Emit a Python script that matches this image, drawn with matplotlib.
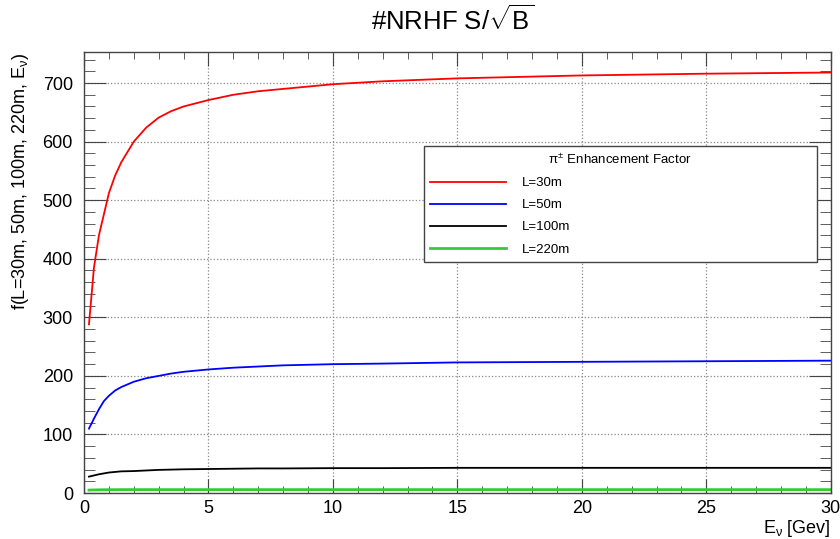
import matplotlib.pyplot as plt
from matplotlib.ticker import MultipleLocator

plt.rcParams['font.family'] = ['Liberation Sans', 'DejaVu Sans']
plt.rcParams['mathtext.fontset'] = 'custom'
plt.rcParams['mathtext.rm'] = 'Liberation Sans'
plt.rcParams['mathtext.it'] = 'Liberation Sans'

# energie (GeV)
energy = [0.2, 0.4, 0.6, 0.8, 1.0, 1.25, 1.5, 2.0, 2.5, 3.0, 3.5, 4.0,
          5.0, 6.0, 7.0, 8.0, 10.0, 12.0, 15.0, 20.0, 25.0, 30.0]

f_30m = [288, 385, 440, 476, 512, 542, 565, 600, 624, 641, 652, 660,
         671, 680, 686, 690, 698, 703, 708, 713, 716, 718]
f_50m = [110, 127, 143, 157, 166, 175, 181, 190, 196, 200, 204, 207,
         211, 214, 216, 218, 220, 221, 223, 224, 225, 226]
f_100m = [28, 30, 32, 33.5, 35, 36, 37, 37.5, 38.5, 39.5, 40, 40.5,
          41, 41.5, 42, 42, 42.5, 42.5, 43, 43, 43, 43]
f_220m = [5.0, 5.3, 5.5, 5.6, 5.7, 5.7, 5.8, 5.8, 5.8, 5.8, 5.8, 5.8,
          5.8, 5.8, 5.8, 5.8, 5.8, 5.8, 5.8, 5.8, 5.8, 5.8]

labels = ['L=30m', 'L=50m', 'L=100m', 'L=220m']
colors = ['#ff0000', '#0000ff', '#000000', '#33cc33']

fig = plt.figure(figsize=(8.4, 5.39), dpi=100)
ax = fig.add_axes([0.1, 0.0853, 0.889, 0.8182])

for y, lab, c in zip([f_30m, f_50m, f_100m, f_220m], labels, colors):
    lw = 2.0 if c == '#33cc33' else 1.3
    ax.plot(energy, y, color=c, lw=lw, label=lab)

ax.set_xlim(0, 30)
ax.set_ylim(0, 753)
ax.xaxis.set_major_locator(MultipleLocator(5))
ax.xaxis.set_minor_locator(MultipleLocator(1))
ax.yaxis.set_major_locator(MultipleLocator(100))
ax.yaxis.set_minor_locator(MultipleLocator(20))

ax.grid(True, which='major', ls=':', color='#888888', lw=0.9)
for s in ax.spines.values():
    s.set_color('#444444')
    s.set_linewidth(1.0)

ax.tick_params(axis='both', which='both', direction='in', top=True, right=True,
               color='#444444', labelsize=13)
ax.tick_params(axis='x', which='major', length=10, pad=5)
ax.tick_params(axis='x', which='minor', length=5)
ax.tick_params(axis='y', which='major', length=16, pad=8)
ax.tick_params(axis='y', which='minor', length=8)

ax.set_xlabel(r'E$_{\nu}$ [Gev]', fontsize=13, loc='right')
ax.xaxis.set_label_coords(1.0, -0.056)
ax.set_ylabel(r'f(L=30m, 50m, 100m, 220m, E$_{\nu}$)', fontsize=13, loc='top', labelpad=8)
fig.text(0.539, 0.962, r'#NRHF S/$\sqrt{\rm B}$', fontsize=18.5, ha='center', va='center')

leg = ax.legend(loc='upper left', bbox_to_anchor=(0.455, 0.535, 0.526, 0.252),
                mode='expand', fontsize=9.5, title=r'$\pi^{\pm}$ Enhancement Factor',
                title_fontsize=9.5, fancybox=False, framealpha=1, edgecolor='#444444',
                handlelength=5.7, handletextpad=1.2, labelspacing=0.75,
                borderaxespad=0, borderpad=0.5)
leg.get_frame().set_linewidth(1.0)

fig.savefig('out.png', dpi=100)
